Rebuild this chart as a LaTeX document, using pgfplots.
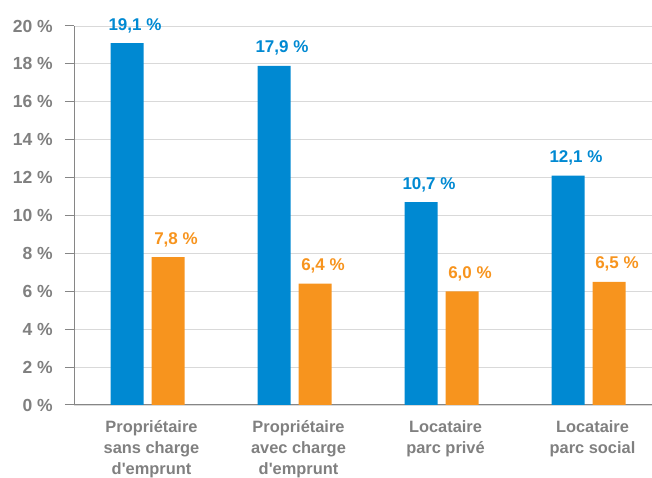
\documentclass[border=0pt]{standalone}
\usepackage{fontspec}
\setmainfont{Liberation Sans}
\usepackage{pgfplots}
\pgfplotsset{compat=1.18}
\definecolor{cblue}{RGB}{0,137,210}
\definecolor{corange}{RGB}{247,148,30}
\definecolor{tgray}{RGB}{128,128,128}
\definecolor{agray}{RGB}{134,134,134}
\definecolor{ggray}{RGB}{217,217,217}
\begin{document}
\begin{tikzpicture}[x=1pt,y=1pt]
\useasboundingbox (0,0) rectangle (652,478);
\begin{axis}[
 at={(74pt,73pt)}, anchor=south west,
 scale only axis, width=578pt, height=379pt,
 xmin=-0.5, xmax=3.432, ymin=0, ymax=20,
 ybar=8pt, bar width=33pt,
 axis x line*=bottom, axis y line*=left,
 axis line style={agray, line width=1pt},
 xtick={0,1,2,3},
 xticklabels={{Propriétaire\\sans charge\\d\textquotesingle emprunt},{Propriétaire\\avec charge\\d\textquotesingle emprunt},{Locataire\\parc privé},{Locataire\\parc social}},
 x tick style={draw=none},
 ytick={0,2,...,20},
 yticklabels={0 \%,2 \%,4 \%,6 \%,8 \%,10 \%,12 \%,14 \%,16 \%,18 \%,20 \%},
 ymajorgrids, grid style={ggray, line width=0.8pt},
 tick align=outside, major tick length=9pt,
 y tick style={agray, line width=1pt},
 yticklabel style={font=\fontsize{17.5}{20}\selectfont\bfseries, text=tgray, inner sep=0pt, xshift=-12pt},
 xticklabel style={font=\fontsize{16.4}{21.3}\selectfont\bfseries, text=tgray, align=center, anchor=north, inner sep=0pt, yshift=-6pt, xshift=4pt},
 nodes near coords={\pgfmathprintnumber[fixed,fixed zerofill,precision=1,use comma,assume math mode=true]{\pgfplotspointmeta} \%},
 every node near coord/.append style={font=\fontsize{17}{19}\selectfont\bfseries, anchor=base, inner sep=0pt, yshift=13pt, xshift=8pt},
]
\addplot[fill=cblue, draw=none, nodes near coords style={text=cblue}] coordinates {(0,19.1) (1,17.9) (2,10.7) (3,12.1)};
\addplot[fill=corange, draw=none, nodes near coords style={text=corange}] coordinates {(0,7.8) (1,6.4) (2,6.0) (3,6.5)};
\end{axis}
\end{tikzpicture}
\end{document}
